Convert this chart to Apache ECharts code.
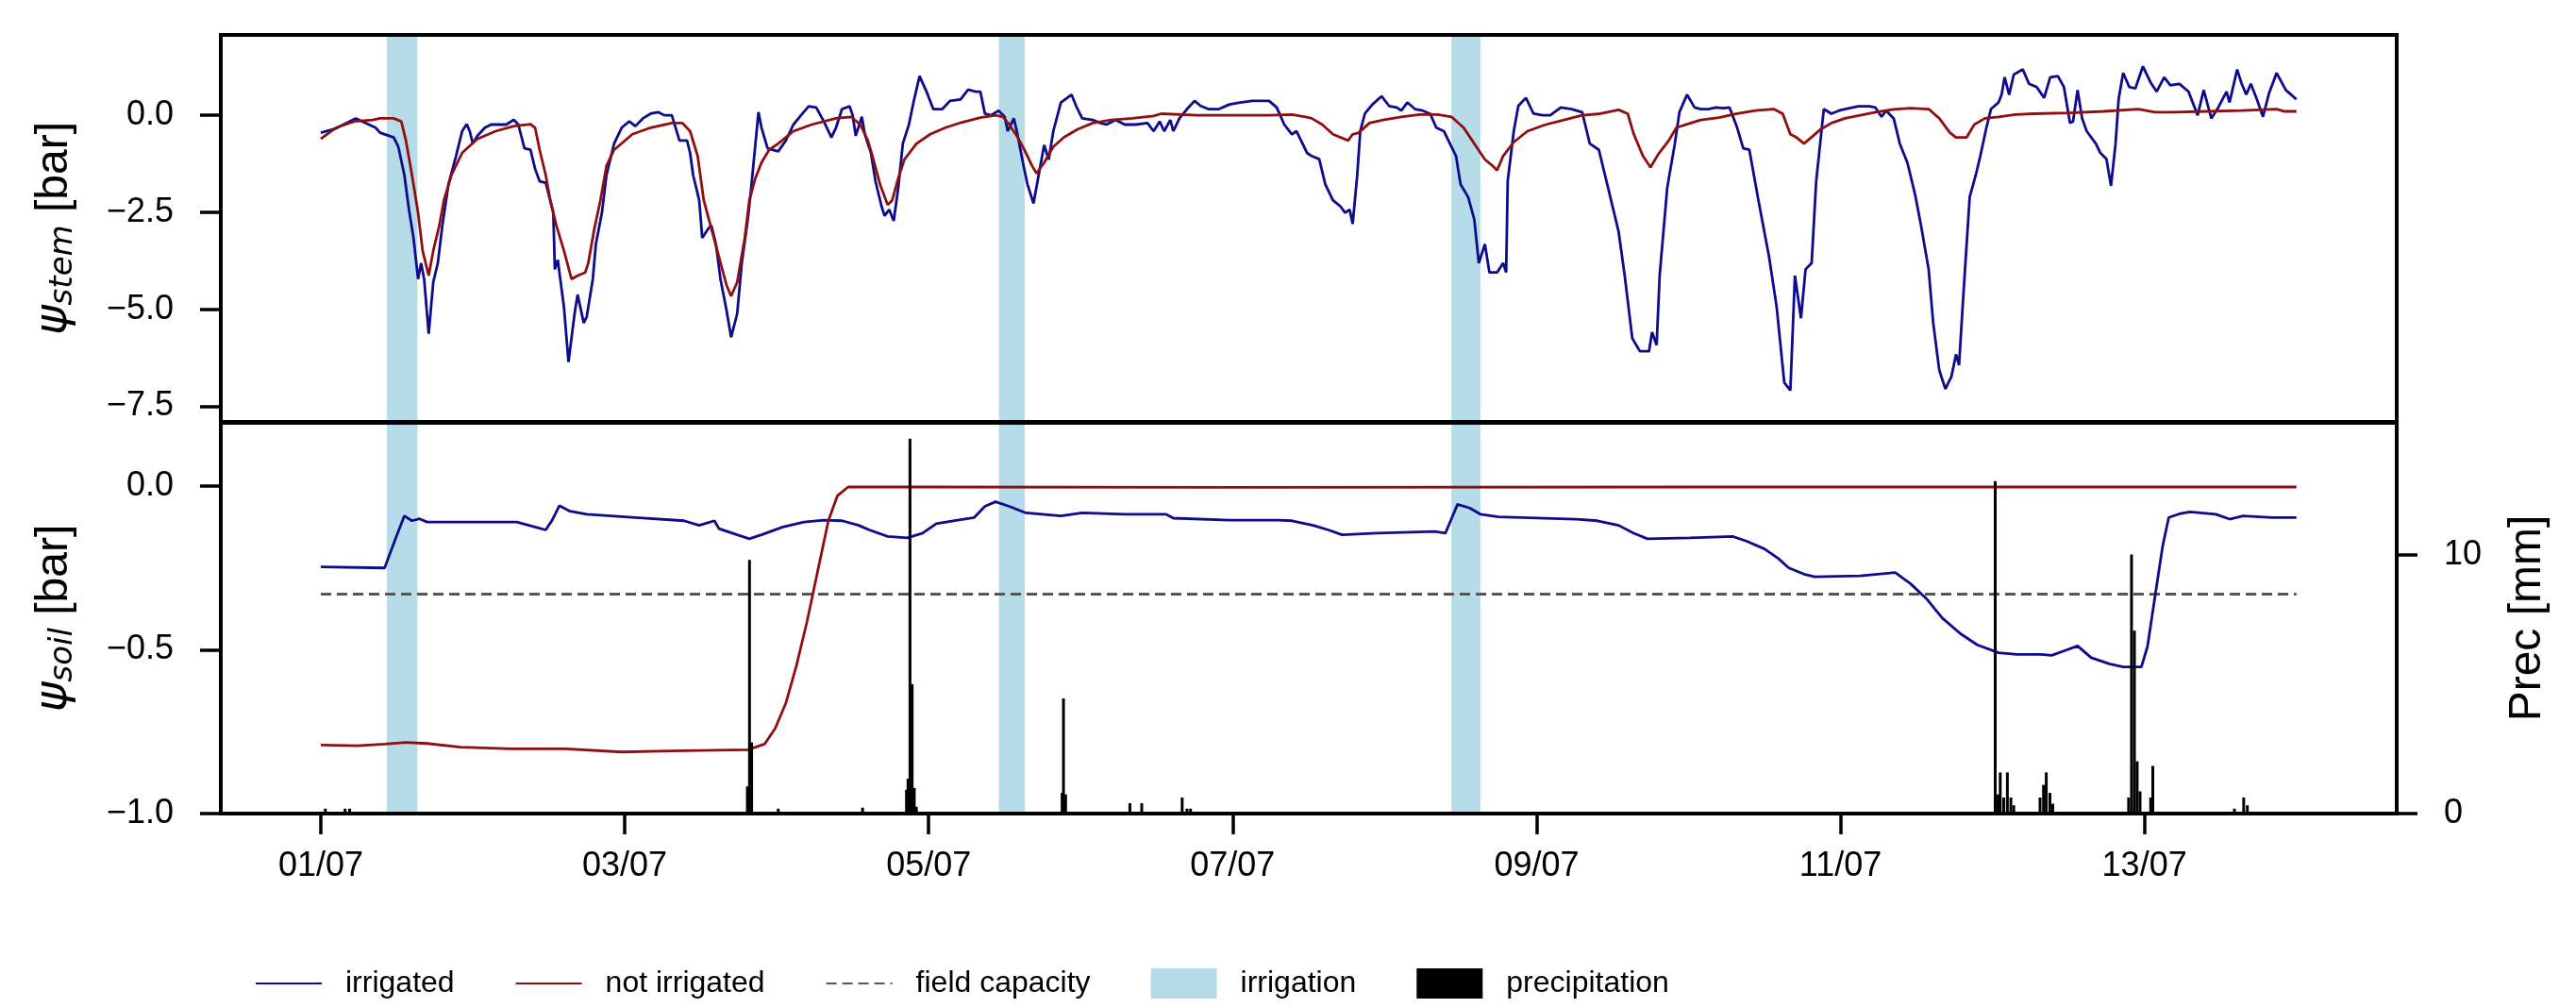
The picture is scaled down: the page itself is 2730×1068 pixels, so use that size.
<!DOCTYPE html>
<html>
<head>
<meta charset="utf-8">
<script src="https://cdn.jsdelivr.net/npm/echarts@6/dist/echarts.min.js"></script>
<style>
html,body{margin:0;padding:0;background:#fff;}
#chart{width:2730px;height:1068px;}
</style>
</head>
<body>
<div id="chart"></div>
<script>
// ---------- DATA (time in days since 01/07 00:00) ----------
const tickDays = [0, 2, 4, 6, 8, 10, 12];
const tickLabels = ['01/07', '03/07', '05/07', '07/07', '09/07', '11/07', '13/07'];

const irrigStart = [0.434, 4.462, 7.44];
const irrigEnd = [0.636, 4.632, 7.63];

const fieldCapDays = [0, 13];
const fieldCapacity = -0.33;

// stem water potential, irrigated [bar]
const stemIrrDays = [0.00,0.10,0.23,0.36,0.39,0.48,0.51,0.55,0.58,0.61,0.64,0.66,0.68,0.71,0.74,0.77,0.80,0.84,0.89,0.93,0.96,0.98,1.00,1.03,1.08,1.12,1.17,1.22,1.27,1.30,1.34,1.38,1.41,1.44,1.48,1.53,1.54,1.56,1.57,1.60,1.63,1.67,1.69,1.73,1.75,1.79,1.81,1.85,1.88,1.93,1.98,2.03,2.07,2.12,2.17,2.22,2.26,2.31,2.36,2.41,2.43,2.45,2.49,2.51,2.55,2.57,2.60,2.63,2.67,2.70,2.74,2.77,2.81,2.83,2.88,2.90,2.94,2.97,3.01,3.06,3.11,3.16,3.21,3.26,3.31,3.36,3.39,3.43,3.48,3.50,3.52,3.56,3.58,3.62,3.65,3.69,3.71,3.74,3.77,3.80,3.83,3.87,3.90,3.94,3.99,4.03,4.09,4.14,4.21,4.26,4.31,4.34,4.37,4.41,4.46,4.50,4.52,4.56,4.58,4.62,4.65,4.69,4.72,4.76,4.79,4.82,4.87,4.94,4.97,5.01,5.08,5.13,5.17,5.23,5.29,5.36,5.44,5.48,5.52,5.55,5.59,5.61,5.65,5.70,5.75,5.79,5.84,5.91,5.98,6.05,6.13,6.20,6.24,6.29,6.34,6.39,6.42,6.46,6.49,6.52,6.57,6.61,6.66,6.71,6.74,6.77,6.79,6.82,6.84,6.87,6.92,6.98,7.03,7.08,7.11,7.15,7.20,7.25,7.30,7.34,7.39,7.42,7.47,7.50,7.55,7.59,7.62,7.66,7.69,7.74,7.78,7.80,7.81,7.85,7.88,7.93,7.98,8.04,8.09,8.16,8.23,8.30,8.35,8.41,8.47,8.54,8.58,8.63,8.68,8.74,8.76,8.79,8.81,8.86,8.91,8.94,8.99,9.04,9.08,9.13,9.18,9.23,9.27,9.32,9.36,9.40,9.46,9.53,9.58,9.63,9.67,9.70,9.74,9.77,9.81,9.84,9.89,9.94,9.99,10.03,10.08,10.12,10.19,10.23,10.27,10.30,10.35,10.39,10.44,10.49,10.53,10.58,10.61,10.65,10.69,10.73,10.76,10.78,10.81,10.85,10.89,10.92,10.96,10.99,11.04,11.06,11.08,11.11,11.14,11.20,11.24,11.29,11.34,11.38,11.43,11.47,11.51,11.53,11.56,11.59,11.62,11.68,11.71,11.75,11.78,11.81,11.83,11.86,11.90,11.94,11.99,12.04,12.08,12.13,12.17,12.23,12.29,12.35,12.39,12.44,12.48,12.54,12.56,12.61,12.64,12.67,12.70,12.74,12.78,12.82,12.87,12.93,13.00];
const stemIrrVals = [-0.45,-0.34,-0.08,-0.32,-0.45,-0.57,-0.81,-1.54,-2.43,-3.16,-4.22,-3.81,-4.22,-5.63,-4.30,-3.81,-2.84,-1.78,-1.05,-0.41,-0.23,-0.41,-0.73,-0.53,-0.32,-0.24,-0.24,-0.24,-0.12,-0.24,-0.85,-0.89,-1.38,-1.70,-1.74,-2.51,-3.97,-3.73,-4.05,-4.94,-6.36,-5.11,-4.62,-5.35,-5.19,-4.22,-3.32,-2.51,-1.54,-0.73,-0.32,-0.16,-0.28,-0.08,0.04,0.08,0.00,0.00,-0.65,-0.65,-0.97,-1.54,-2.19,-3.16,-2.92,-2.84,-3.32,-4.22,-5.03,-5.72,-5.11,-3.81,-2.68,-1.95,0.08,-0.32,-0.85,-0.89,-0.93,-0.65,-0.24,0.00,0.23,0.20,-0.16,-0.57,-0.32,0.16,0.23,0.00,-0.53,-0.04,-0.49,-0.97,-1.70,-2.35,-2.59,-2.43,-2.72,-1.86,-0.73,-0.24,0.33,1.01,0.57,0.16,0.16,0.37,0.41,0.66,0.61,0.61,0.04,0.00,0.12,-0.04,-0.41,-0.08,-0.41,-1.22,-1.78,-2.27,-1.62,-0.77,-1.14,-0.41,0.33,0.53,0.24,-0.08,-0.12,-0.20,-0.24,-0.12,-0.24,-0.24,-0.20,-0.41,-0.16,-0.41,-0.12,-0.41,-0.08,0.16,0.37,0.24,0.16,0.16,0.28,0.33,0.37,0.37,0.37,0.20,-0.24,-0.49,-0.41,-0.73,-0.97,-1.05,-1.13,-1.78,-2.19,-2.35,-2.51,-2.43,-2.80,-1.54,-0.41,0.04,0.28,0.49,0.24,0.20,0.12,0.33,0.16,0.12,0.04,-0.32,-0.41,-0.65,-1.05,-1.78,-2.11,-2.68,-3.81,-3.32,-4.05,-4.05,-3.81,-4.05,-1.70,-0.41,0.24,0.45,0.04,0.00,0.00,0.20,0.16,0.08,-0.73,-0.89,-1.86,-3.00,-4.13,-5.75,-6.08,-6.08,-5.59,-5.92,-4.13,-1.86,-0.73,0.08,0.53,0.20,0.16,0.16,0.20,0.18,0.20,-0.32,-0.85,-0.89,-2.19,-3.65,-4.94,-6.89,-7.09,-4.13,-5.23,-3.97,-3.81,-1.70,0.16,0.04,0.12,0.16,0.20,0.23,0.23,0.20,-0.04,0.12,-0.08,-0.73,-1.22,-2.03,-2.84,-3.97,-5.35,-6.57,-7.05,-6.73,-6.16,-6.44,-4.54,-2.11,-1.54,-1.05,-0.32,0.16,0.33,0.53,0.98,0.53,1.05,1.18,0.81,0.73,0.45,0.98,1.01,0.73,-0.20,-0.16,0.65,-0.08,-0.41,-0.73,-0.97,-1.13,-1.82,-0.73,0.41,1.09,0.73,0.69,1.26,0.85,0.61,0.98,0.77,0.81,0.61,0.00,0.65,-0.08,0.16,0.61,0.33,1.18,0.81,0.53,0.81,0.41,-0.04,0.57,1.09,0.65,0.41];

// stem water potential, not irrigated [bar]
const stemNotDays = [0.00,0.10,0.22,0.34,0.39,0.48,0.53,0.56,0.60,0.64,0.67,0.71,0.74,0.78,0.81,0.86,0.93,1.03,1.15,1.27,1.38,1.41,1.44,1.48,1.51,1.55,1.60,1.65,1.69,1.74,1.76,1.80,1.84,1.88,1.93,2.05,2.17,2.31,2.38,2.43,2.48,2.52,2.57,2.62,2.67,2.70,2.74,2.79,2.82,2.86,2.90,2.95,3.01,3.11,3.23,3.39,3.49,3.55,3.60,3.63,3.68,3.73,3.76,3.80,3.84,3.92,4.01,4.11,4.22,4.34,4.44,4.49,4.53,4.58,4.63,4.68,4.71,4.76,4.82,4.89,4.98,5.08,5.20,5.34,5.48,5.53,5.77,6.01,6.24,6.39,6.48,6.52,6.59,6.66,6.76,6.79,6.83,6.90,6.99,7.11,7.23,7.35,7.44,7.52,7.59,7.66,7.71,7.74,7.78,7.85,7.94,8.06,8.18,8.30,8.42,8.54,8.60,8.64,8.70,8.75,8.80,8.87,8.92,8.99,9.08,9.20,9.32,9.44,9.56,9.62,9.67,9.71,9.76,9.82,9.87,9.94,10.03,10.13,10.23,10.35,10.46,10.58,10.65,10.72,10.76,10.83,10.88,10.95,11.04,11.15,11.27,11.50,11.73,11.96,12.07,12.19,12.41,12.64,12.87,12.92,13.00];
const stemNotVals = [-0.61,-0.32,-0.16,-0.12,-0.08,-0.08,-0.16,-0.65,-1.54,-2.51,-3.49,-4.13,-3.49,-2.84,-2.19,-1.54,-0.97,-0.61,-0.41,-0.28,-0.23,-0.32,-0.89,-1.54,-2.19,-2.84,-3.49,-4.22,-4.13,-4.05,-3.81,-2.92,-2.19,-1.30,-0.89,-0.49,-0.32,-0.20,-0.20,-0.41,-1.05,-2.19,-2.92,-3.65,-4.38,-4.66,-4.30,-3.16,-2.19,-1.62,-1.22,-0.89,-0.73,-0.41,-0.24,-0.08,-0.04,-0.24,-0.65,-1.05,-1.78,-2.31,-2.19,-1.62,-1.14,-0.73,-0.49,-0.32,-0.18,-0.06,0.00,-0.04,-0.24,-0.53,-0.89,-1.30,-1.50,-1.22,-0.81,-0.57,-0.36,-0.20,-0.12,-0.08,-0.02,0.04,0.00,0.00,0.00,0.02,-0.04,-0.08,-0.24,-0.49,-0.65,-0.49,-0.45,-0.20,-0.12,-0.04,0.02,0.02,-0.04,-0.32,-0.73,-1.14,-1.30,-1.42,-1.05,-0.69,-0.41,-0.24,-0.12,0.00,0.04,0.14,0.04,-0.49,-1.05,-1.34,-1.01,-0.65,-0.32,-0.23,-0.12,-0.06,0.04,0.12,0.16,0.04,-0.49,-0.57,-0.73,-0.53,-0.36,-0.20,-0.08,0.00,0.08,0.15,0.18,0.16,-0.08,-0.45,-0.57,-0.57,-0.24,-0.08,-0.04,0.02,0.04,0.06,0.10,0.16,0.08,0.08,0.10,0.12,0.16,0.10,0.10];

// soil water potential, irrigated [bar]
const soilIrrDays = [0.00,0.42,0.49,0.55,0.60,0.65,0.70,0.92,1.29,1.41,1.48,1.52,1.57,1.64,1.75,2.07,2.39,2.49,2.59,2.62,2.74,2.82,2.90,3.04,3.18,3.31,3.43,3.54,3.61,3.73,3.86,3.96,4.05,4.19,4.30,4.37,4.44,4.53,4.64,4.87,5.01,5.29,5.56,5.61,5.98,6.30,6.39,6.53,6.63,6.72,6.95,7.33,7.40,7.48,7.56,7.63,7.75,8.26,8.40,8.54,8.64,8.73,9.01,9.29,9.38,9.50,9.59,9.66,9.76,9.83,10.13,10.36,10.46,10.57,10.67,10.79,10.90,11.04,11.16,11.32,11.39,11.49,11.56,11.65,11.77,11.86,11.98,12.02,12.07,12.12,12.16,12.23,12.30,12.47,12.56,12.65,12.84,13.00];
const soilIrrVals = [-0.247,-0.250,-0.163,-0.091,-0.106,-0.100,-0.110,-0.110,-0.110,-0.125,-0.134,-0.106,-0.060,-0.077,-0.086,-0.096,-0.106,-0.120,-0.106,-0.130,-0.149,-0.161,-0.149,-0.125,-0.110,-0.104,-0.106,-0.120,-0.134,-0.154,-0.158,-0.144,-0.115,-0.104,-0.096,-0.062,-0.048,-0.062,-0.082,-0.091,-0.082,-0.086,-0.086,-0.098,-0.104,-0.104,-0.106,-0.120,-0.134,-0.149,-0.144,-0.139,-0.144,-0.056,-0.067,-0.086,-0.094,-0.101,-0.106,-0.120,-0.144,-0.161,-0.158,-0.154,-0.168,-0.192,-0.221,-0.250,-0.269,-0.277,-0.274,-0.264,-0.298,-0.346,-0.403,-0.451,-0.485,-0.509,-0.514,-0.514,-0.517,-0.500,-0.488,-0.524,-0.543,-0.552,-0.552,-0.490,-0.336,-0.183,-0.096,-0.085,-0.079,-0.086,-0.101,-0.091,-0.096,-0.096];

// soil water potential, not irrigated [bar]
const soilNotDays = [0.00,0.24,0.42,0.56,0.70,0.92,1.25,1.61,1.98,2.30,2.81,2.92,2.99,3.06,3.13,3.20,3.27,3.34,3.40,3.47,4.00,6.00,9.00,13.00];
const soilNotVals = [-0.791,-0.793,-0.788,-0.783,-0.786,-0.797,-0.802,-0.802,-0.812,-0.809,-0.805,-0.788,-0.740,-0.663,-0.548,-0.413,-0.259,-0.106,-0.029,-0.003,-0.003,-0.004,-0.003,-0.003];

// precipitation [mm]
const precipDays = [0.03,0.16,0.19,2.807,2.821,2.835,3.01,3.565,3.854,3.864,3.877,3.891,3.905,3.919,4.878,4.887,4.901,5.324,5.402,5.668,5.70,5.723,11.018,11.037,11.051,11.074,11.098,11.121,11.14,11.313,11.336,11.354,11.378,11.397,11.896,11.915,11.934,11.952,11.971,12.041,12.055,12.592,12.653,12.677];
const precipMm = [0.19,0.19,0.19,1.05,9.8,2.75,0.19,0.23,0.92,1.35,14.49,5.0,0.99,0.26,0.8,4.45,0.74,0.40,0.40,0.62,0.19,0.19,12.85,0.74,1.59,0.62,1.59,0.62,0.32,0.62,1.11,1.59,0.8,0.38,0.62,10.01,7.07,2.02,0.86,0.62,1.84,0.19,0.62,0.32];

const stemTicks = [-7.5, -5, -2.5, 0];
const soilTicks = [-1, -0.5, 0];
const precTicks = [0, 10];

// ---------- CHART ----------
const zip = (xs, ys) => xs.map((x, i) => [x, ys[i]]);
const fmt1 = v => (v < 0 ? '\u2212' : '') + Math.abs(v).toFixed(1);
const FONT = "'Liberation Sans', Arial, Helvetica, sans-serif";
const X_MIN = -0.658, X_MAX = 13.66;
const BLUE = '#0c0c8c', RED = '#8f0f0f', BAND = '#b5dce8';

const tickStyle = {show: true, inside: false, length: 22, lineStyle: {color: '#000', width: 3.5}};
const labelStyle = {color: '#000', fontSize: 36, fontFamily: FONT, margin: 50};

function bandItem(params, api) {
  const s = api.coord([api.value(0), 0]);
  const e = api.coord([api.value(1), 0]);
  const cs = params.coordSys;
  return {type: 'rect', shape: {x: s[0], y: cs.y, width: e[0] - s[0], height: cs.height},
          style: {fill: api.visual('color')}};
}
const bandData = irrigStart.map((s, i) => [s, irrigEnd[i]]);

const nameStyle = (size) => ({
  color: '#000', fontSize: size, fontFamily: FONT,
  rich: {
    psi: {fontSize: size, fontStyle: 'italic', fontFamily: 'DejaVu Sans', color: '#000'},
    sub: {fontSize: Math.round(size * 0.7), fontStyle: 'italic', fontFamily: 'DejaVu Sans', color: '#000', padding: [18, 0, 0, 0]}
  }
});

const option = {
  animation: false,
  backgroundColor: '#fff',
  textStyle: {fontFamily: FONT},
  grid: [
    {left: 234, right: 190, top: 37, height: 410, show: true, z: 10, borderColor: '#000', borderWidth: 4, backgroundColor: 'rgba(0,0,0,0)'},
    {left: 234, right: 190, top: 448, height: 414, show: true, z: 10, borderColor: '#000', borderWidth: 4, backgroundColor: 'rgba(0,0,0,0)'}
  ],
  xAxis: [
    {type: 'value', gridIndex: 0, min: X_MIN, max: X_MAX,
     axisLine: {show: false, onZero: false}, axisTick: {show: false}, axisLabel: {show: false}, splitLine: {show: false}},
    {type: 'value', gridIndex: 1, min: X_MIN, max: X_MAX,
     axisLine: {show: true, onZero: false, lineStyle: {color: '#000', width: 4}},
     axisTick: Object.assign({customValues: tickDays}, tickStyle),
     axisLabel: Object.assign({}, labelStyle, {customValues: tickDays, margin: 38, formatter: v => tickLabels[tickDays.indexOf(Math.round(v))]}),
     splitLine: {show: false}}
  ],
  yAxis: [
    {type: 'value', gridIndex: 0, min: -7.9, max: 2.07, position: 'left',
     axisLine: {show: false, onZero: false},
     axisTick: Object.assign({customValues: stemTicks}, tickStyle),
     axisLabel: Object.assign({customValues: stemTicks, formatter: fmt1}, labelStyle),
     splitLine: {show: false},
     name: '{psi|\u03C8}{sub|stem} [bar]', nameLocation: 'middle', nameRotate: 90, nameGap: 150,
     nameTextStyle: nameStyle(48)},
    {type: 'value', gridIndex: 1, min: -1, max: 0.193, position: 'left',
     axisLine: {show: false, onZero: false},
     axisTick: Object.assign({customValues: soilTicks}, tickStyle),
     axisLabel: Object.assign({customValues: soilTicks, formatter: fmt1}, labelStyle),
     splitLine: {show: false},
     name: '{psi|\u03C8}{sub|soil} [bar]', nameLocation: 'middle', nameRotate: 90, nameGap: 150,
     nameTextStyle: nameStyle(48)},
    {type: 'value', gridIndex: 1, min: 0, max: 15.1, position: 'right',
     axisLine: {show: false, onZero: false},
     axisTick: Object.assign({customValues: precTicks}, tickStyle),
     axisLabel: Object.assign({customValues: precTicks, formatter: v => String(v)}, labelStyle),
     splitLine: {show: false},
     name: 'Prec [mm]', nameLocation: 'middle', nameRotate: 90, nameGap: 115,
     nameTextStyle: {color: '#000', fontSize: 48, fontFamily: FONT}}
  ],
  legend: {
    left: 270, top: 1026, itemWidth: 70, itemHeight: 32, itemGap: 64, padding: 0,
    textStyle: {color: '#000', fontSize: 32, fontFamily: FONT, padding: [0, 0, 0, 20]},
    data: [
      {name: 'irrigated', itemStyle: {opacity: 0}},
      {name: 'not irrigated', itemStyle: {opacity: 0}},
      {name: 'field capacity', itemStyle: {opacity: 0}},
      {name: 'irrigation', icon: 'rect'},
      {name: 'precipitation', icon: 'rect'}
    ]
  },
  series: [
    {type: 'custom', name: 'irrigation', xAxisIndex: 0, yAxisIndex: 0, data: bandData,
     encode: {x: [0, 1]}, renderItem: bandItem, itemStyle: {color: BAND}, z: 1, silent: true},
    {type: 'custom', name: 'irrigation', xAxisIndex: 1, yAxisIndex: 1, data: bandData,
     encode: {x: [0, 1]}, renderItem: bandItem, itemStyle: {color: BAND}, z: 1, silent: true},
    {type: 'line', name: 'irrigated', xAxisIndex: 0, yAxisIndex: 0, data: zip(stemIrrDays, stemIrrVals),
     symbol: 'none', showSymbol: false, lineStyle: {color: BLUE, width: 2.8}, itemStyle: {color: BLUE}, z: 3},
    {type: 'line', name: 'not irrigated', xAxisIndex: 0, yAxisIndex: 0, data: zip(stemNotDays, stemNotVals),
     symbol: 'none', showSymbol: false, lineStyle: {color: RED, width: 2.8}, itemStyle: {color: RED}, z: 4},
    {type: 'line', name: 'irrigated', xAxisIndex: 1, yAxisIndex: 1, data: zip(soilIrrDays, soilIrrVals),
     symbol: 'none', showSymbol: false, lineStyle: {color: BLUE, width: 2.8}, itemStyle: {color: BLUE}, z: 3},
    {type: 'line', name: 'not irrigated', xAxisIndex: 1, yAxisIndex: 1, data: zip(soilNotDays, soilNotVals),
     symbol: 'none', showSymbol: false, lineStyle: {color: RED, width: 2.8}, itemStyle: {color: RED}, z: 3},
    {type: 'line', name: 'field capacity', xAxisIndex: 1, yAxisIndex: 1,
     data: fieldCapDays.map(d => [d, fieldCapacity]),
     symbol: 'none', showSymbol: false, lineStyle: {color: '#555555', width: 3, type: [11, 6]}, itemStyle: {color: '#555555'}, z: 2},
    {type: 'bar', name: 'precipitation', xAxisIndex: 1, yAxisIndex: 2, data: zip(precipDays, precipMm),
     barWidth: 3, itemStyle: {color: '#000'}, z: 5}
  ]
};

const chart = echarts.init(document.getElementById('chart'), null, {renderer: 'canvas'});
chart.setOption(option);
</script>
</body>
</html>
